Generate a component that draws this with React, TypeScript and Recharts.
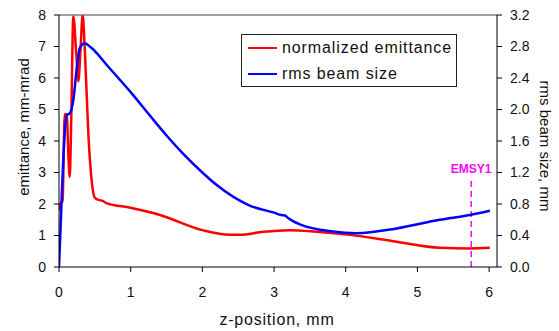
import React from "react";
import {
  LineChart,
  Line,
  XAxis,
  YAxis,
  ReferenceLine,
  Legend,
} from "recharts";

// normalized emittance (left axis, mm-mrad)
const emitZ = [
  0, 0.02, 0.05, 0.08, 0.11, 0.13, 0.15, 0.17, 0.2, 0.24, 0.27, 0.3, 0.33,
  0.36, 0.41, 0.46, 0.5, 0.55, 0.61, 0.66, 1.0, 1.41, 2.0, 2.38, 2.52, 2.85,
  3.22, 3.59, 4.06, 4.71, 5.31, 5.73, 6.01,
];
const emitVal = [
  1.8, 2.0, 2.1, 4.86, 4.85, 3.6, 2.86, 4.6, 7.95, 6.8, 5.9, 6.9, 8.0, 6.9,
  4.2, 2.65, 2.2, 2.13, 2.1, 2.03, 1.88, 1.65, 1.17, 1.02, 1.02, 1.12, 1.17,
  1.12, 1.02, 0.8, 0.61, 0.59, 0.61,
];

// rms beam size (right axis, mm)
const sizeZ = [
  0, 0.02, 0.04, 0.08, 0.11, 0.15, 0.2, 0.25, 0.29, 0.36, 0.43, 0.7, 1.0,
  1.27, 1.5, 1.73, 2.0, 2.2, 2.66, 3.0, 3.1, 3.15, 3.2, 3.36, 3.82, 4.15,
  4.71, 5.31, 5.73, 6.01,
];
const sizeVal = [
  0, 0.45, 0.94, 1.7, 1.93, 1.95, 2.12, 2.54, 2.78, 2.84, 2.8, 2.53, 2.22,
  1.92, 1.67, 1.44, 1.2, 1.04, 0.78, 0.69, 0.66, 0.655, 0.62, 0.54, 0.45,
  0.43, 0.49, 0.6, 0.66, 0.715,
];

const xTicks = [0, 1, 2, 3, 4, 5, 6];
const leftTicks = [0, 1, 2, 3, 4, 5, 6, 7, 8];
const rightTicks = [0, 0.4, 0.8, 1.2, 1.6, 2.0, 2.4, 2.8, 3.2];

const markerZ = 5.75;
const markerTop = 2.83;
const markerName = "EMSY1";

const emitData = emitZ.map((z, i) => ({ z, emit: emitVal[i] }));
const sizeData = sizeZ.map((z, i) => ({ z, size: sizeVal[i] }));

const font = "'Liberation Sans', Arial, sans-serif";
const tickStyle = { fill: "#111", fontSize: 14, fontFamily: font };

function LegendBox() {
  const row = (color: string, text: string) => (
    <div style={{ display: "flex", alignItems: "center", height: 26 }}>
      <div
        style={{
          width: 29,
          height: 0,
          borderTop: `2.5px solid ${color}`,
          marginLeft: 6,
          marginRight: 5,
        }}
      />
      <span style={{ fontSize: 16, letterSpacing: 0.9, color: "#111" }}>
        {text}
      </span>
    </div>
  );
  return (
    <div
      style={{
        border: "1px solid #222",
        background: "#fff",
        fontFamily: font,
        width: 214,
        height: 51,
        boxSizing: "content-box",
        textAlign: "left",
      }}
    >
      {row("#ff0000", "normalized emittance")}
      {row("#0000ff", "rms beam size")}
    </div>
  );
}

export default function App() {
  return (
    <div style={{ position: "absolute", left: 0, top: 0 }}>
      <LineChart
        width={559}
        height={331}
        margin={{ top: 15, right: 0, bottom: 0, left: 0 }}
      >
        <XAxis
          dataKey="z"
          type="number"
          domain={[0, 6.11]}
          ticks={xTicks}
          allowDataOverflow
          height={64}
          stroke="#000"
          tickSize={5}
          tickMargin={15}
          tick={tickStyle}
          label={{
            content: () => (
              <text
                x={277}
                y={319}
                textAnchor="middle"
                dominantBaseline="central"
                fontSize={16}
                letterSpacing={0.8}
                fontFamily={font}
                fill="#111"
              >
                z-position, mm
              </text>
            ),
          }}
        />
        <YAxis
          yAxisId="left"
          domain={[0, 8]}
          ticks={leftTicks}
          allowDataOverflow
          width={59}
          stroke="#000"
          tickSize={5}
          tickMargin={8}
          tick={tickStyle}
          label={{
            content: () => (
              <text
                x={23}
                y={127}
                transform="rotate(-90 23 127)"
                textAnchor="middle"
                dominantBaseline="central"
                fontSize={15}
                fontFamily={font}
                fill="#111"
              >
                emittance, mm-mrad
              </text>
            ),
          }}
        />
        <YAxis
          yAxisId="right"
          orientation="right"
          domain={[0, 3.2]}
          ticks={rightTicks}
          allowDataOverflow
          width={62}
          stroke="#000"
          tickSize={5}
          tickMargin={8}
          tick={tickStyle}
          tickFormatter={(v: number) => v.toFixed(1)}
          label={{
            content: () => (
              <text
                x={545}
                y={146}
                transform="rotate(90 545 146)"
                textAnchor="middle"
                dominantBaseline="central"
                fontSize={15}
                fontFamily={font}
                fill="#111"
              >
                rms beam size, mm
              </text>
            ),
          }}
        />
        <ReferenceLine yAxisId="left" y={8} stroke="#808080" strokeWidth={1.5} />
        <ReferenceLine
          yAxisId="left"
          segment={[
            { x: markerZ, y: 0 },
            { x: markerZ, y: markerTop },
          ]}
          stroke="#ff00ff"
          strokeWidth={1.5}
          strokeDasharray="6 4"
          label={{
            value: markerName,
            position: "top",
            offset: 5,
            fill: "#ff00ff",
            fontSize: 12,
            fontWeight: "bold",
            fontFamily: font,
          }}
        />
        <Legend
          layout="horizontal"
          verticalAlign="middle"
          align="center"
          wrapperStyle={{ left: 241, top: 34, width: 216, height: 53 }}
          content={() => <LegendBox />}
        />
        <Line
          yAxisId="left"
          data={emitData}
          dataKey="emit"
          type="monotone"
          stroke="#ff0000"
          strokeWidth={2.5}
          dot={false}
          isAnimationActive={false}
        />
        <Line
          yAxisId="right"
          data={sizeData}
          dataKey="size"
          type="monotone"
          stroke="#0000ff"
          strokeWidth={2.5}
          dot={false}
          isAnimationActive={false}
        />
      </LineChart>
    </div>
  );
}
